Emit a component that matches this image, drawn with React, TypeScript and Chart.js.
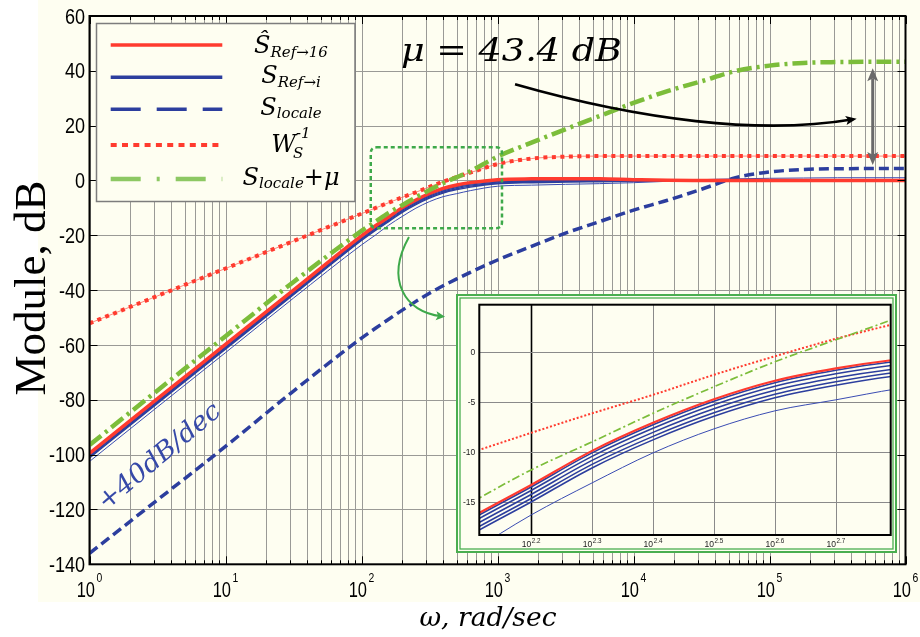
import React, { useEffect, useRef } from "react";
import { Chart, registerables } from "chart.js";

Chart.register(...registerables);

// ---------------- data ----------------
const omega = [1, 3.162, 10, 31.62, 100, 125.9, 158.5, 199.5, 251.2, 316.2, 398.1, 501.2, 631.0, 1000, 1778, 3162, 5623, 10000, 17780, 31620, 56230, 100000, 177800, 316200, 1000000];

const sHatRef16 = [-99.5, -79.6, -59.8, -40.0, -20.2, -16.6, -13.3, -9.9, -7.1, -4.75, -2.9, -1.66, -0.78, 0.3, 0.6, 0.65, 0.6, 0.3, 0.05, 0, 0, 0, 0, 0, 0];

const sRefBand1 = [-99.7, -79.8, -60.0, -40.2, -20.4, -16.8, -13.5, -10.1, -7.3, -4.95, -3.1, -1.85, -0.95, 0.0, 0.2, 0.3, 0.3, 0.2, 0.0, 0, 0, 0, 0, 0, 0];
const sRefBand2 = [-100.05, -80.15, -60.35, -40.55, -20.75, -17.15, -13.85, -10.45, -7.65, -5.3, -3.45, -2.2, -1.3, -0.3, -0.1, 0.0, 0.1, 0.05, 0, 0, 0, 0, 0, 0, 0];
const sRefBand3 = [-100.45, -80.55, -60.75, -40.95, -21.15, -17.55, -14.25, -10.85, -8.05, -5.7, -3.85, -2.6, -1.7, -0.6, -0.3, -0.2, -0.1, -0.1, -0.05, 0, 0, 0, 0, 0, 0];
const sRefBand4 = [-100.85, -80.95, -61.15, -41.35, -21.55, -17.95, -14.65, -11.25, -8.45, -6.1, -4.25, -3.0, -2.05, -0.9, -0.6, -0.4, -0.3, -0.2, -0.1, 0, 0, 0, 0, 0, 0];
const sRefBand5 = [-101.2, -81.3, -61.5, -41.7, -21.9, -18.3, -15.0, -11.6, -8.8, -6.45, -4.6, -3.35, -2.4, -1.2, -0.8, -0.6, -0.45, -0.3, -0.15, 0, 0, 0, 0, 0, 0];
const sRefLowest = [-102.5, -82.6, -62.8, -42.9, -23.5, -20.0, -16.3, -13.1, -10.1, -7.7, -5.9, -4.8, -3.7, -2.1, -1.7, -1.4, -1.15, -0.8, -0.3, 0.3, 0.6, 0.8, 0.9, 1.0, 1.0];

const sLocale = [-136, -116.5, -97, -76.8, -57.5, -54.0, -50.6, -47.3, -44.1, -41.1, -38.4, -35.9, -33.5, -29.0, -24.0, -19.2, -15.0, -10.8, -7.2, -3.2, 1.0, 3.1, 4.0, 4.3, 4.35];

const wsInv = [-52.1, -42.1, -32.1, -22.1, -12.1, -10.1, -8.1, -6.15, -4.3, -2.3, -0.45, 1.3, 2.85, 6.0, 8.0, 8.7, 8.9, 8.9, 8.9, 8.9, 8.9, 8.9, 8.9, 8.9, 8.9];

const sLocaleMu = [-96.5, -76.6, -56.8, -37.0, -18.4, -15.1, -11.8, -9.0, -6.15, -3.5, -1.0, 1.2, 3.4, 8.7, 13.8, 18.7, 23.5, 28.3, 32.6, 36.2, 39.9, 41.9, 42.9, 43.2, 43.35];

// ticks / labels
const yTickValues = [60, 40, 20, 0, -20, -40, -60, -80, -100, -120, -140];
const xDecadeExponents = [0, 1, 2, 3, 4, 5, 6];
const insetXExponents = [2.2, 2.3, 2.4, 2.5, 2.6, 2.7];
const insetXLabels = ["2.2", "2.3", "2.4", "2.5", "2.6", "2.7"];
const insetYTickValues = [0, -5, -10, -15];
const yTitle = "Module, dB";
const xTitle = "ω, rad/sec";
const muLabel = "μ = 43.4 dB";
const slopeLabel = "+40dB/dec";

type Seg = { t: string; k: "main" | "sub" | "sup" | "under" };
const legendLabels: Seg[][] = [
  [{ t: "Ŝ", k: "main" }, { t: "Ref→16", k: "sub" }],
  [{ t: "S", k: "main" }, { t: "Ref→i", k: "sub" }],
  [{ t: "S", k: "main" }, { t: "locale", k: "sub" }],
  [{ t: "W", k: "main" }, { t: "-1", k: "sup" }, { t: "S", k: "under" }],
  [{ t: "S", k: "main" }, { t: "locale", k: "sub" }, { t: "+μ", k: "main" }],
];

// ---------------- styles ----------------
const CREAM = "#fefef1";
const GRID = "#9a9a96";
const RED = "#ff3b2f";
const RED_THIN = "rgba(255,95,85,0.75)";
const BLUE = "#2c3e9e";
const BLUE_THIN = "#3a4cb2";
const GREEN = "#7cbd3a";
const GREEN_LEG = "#8dc863";
const GREEN_BOX = "#3ea94a";
const GREEN_FRAME = "#4aae50";
const SLOPE_BLUE = "#3649a8";

const pts = (arr: number[]) => omega.map((w, i) => ({ x: w, y: arr[i] }));
const ds = (arr: number[], color: string, width: number, dash: number[] = []) => ({
  data: pts(arr),
  borderColor: color,
  borderWidth: width,
  borderDash: dash,
  pointRadius: 0,
  fill: false,
  cubicInterpolationMode: "monotone" as const,
  borderCapStyle: "butt" as const,
});

function drawScaled(ctx: CanvasRenderingContext2D, s: string, x: number, y: number, font: string, sx: number, align: CanvasTextAlign, color: string, baseline: CanvasTextBaseline = "alphabetic", rot = 0) {
  ctx.save();
  ctx.font = font;
  ctx.translate(x, y);
  if (rot) ctx.rotate(rot);
  ctx.scale(sx, 1);
  ctx.textAlign = align;
  ctx.textBaseline = baseline;
  ctx.fillStyle = color;
  ctx.fillText(s, 0, 0);
  ctx.restore();
}

function fitText(ctx: CanvasRenderingContext2D, s: string, x: number, y: number, font: string, targetW: number, align: CanvasTextAlign, color: string, rot = 0) {
  ctx.save();
  ctx.font = font;
  const w = ctx.measureText(s).width;
  ctx.restore();
  drawScaled(ctx, s, x, y, font, targetW / w, align, color, "alphabetic", rot);
}

function arrowHead(ctx: CanvasRenderingContext2D, x: number, y: number, ang: number, len: number, half: number, color: string) {
  ctx.save();
  ctx.translate(x, y);
  ctx.rotate(ang);
  ctx.beginPath();
  ctx.moveTo(0, 0);
  ctx.lineTo(-len, -half);
  ctx.lineTo(-len * 0.78, 0);
  ctx.lineTo(-len, half);
  ctx.closePath();
  ctx.fillStyle = color;
  ctx.fill();
  ctx.restore();
}

function roundRectPath(ctx: CanvasRenderingContext2D, x: number, y: number, w: number, h: number, r: number) {
  ctx.beginPath();
  ctx.moveTo(x + r, y);
  ctx.lineTo(x + w - r, y);
  ctx.quadraticCurveTo(x + w, y, x + w, y + r);
  ctx.lineTo(x + w, y + h - r);
  ctx.quadraticCurveTo(x + w, y + h, x + w - r, y + h);
  ctx.lineTo(x + r, y + h);
  ctx.quadraticCurveTo(x, y + h, x, y + h - r);
  ctx.lineTo(x, y + r);
  ctx.quadraticCurveTo(x, y, x + r, y);
  ctx.closePath();
}

const LMAIN = "italic 24px 'DejaVu Serif'";
const LSUB = "italic 15px 'DejaVu Serif'";

function drawLegend(ctx: CanvasRenderingContext2D) {
  ctx.save();
  ctx.fillStyle = CREAM;
  ctx.fillRect(96.5, 23.5, 258.5, 178);
  ctx.strokeStyle = "#7d7d7d";
  ctx.lineWidth = 1.5;
  ctx.strokeRect(96.5, 23.5, 258.5, 178);

  const sampleY = [45, 77.3, 109.3, 145, 179];
  const textBase = [53.3, 83.3, 115, 151.7, 185];
  const styles = [
    { c: RED, w: 3.5, d: [] as number[] },
    { c: BLUE, w: 3.5, d: [] as number[] },
    { c: BLUE, w: 3.5, d: [30, 16] },
    { c: RED, w: 4, d: [6, 5.3] },
    { c: GREEN_LEG, w: 4.5, d: [30, 16, 3, 16] },
  ];
  styles.forEach((st, i) => {
    ctx.beginPath();
    ctx.strokeStyle = st.c;
    ctx.lineWidth = st.w;
    ctx.setLineDash(st.d);
    ctx.lineCap = "butt";
    ctx.moveTo(110.7, sampleY[i]);
    ctx.lineTo(222.3, sampleY[i]);
    ctx.stroke();
  });
  ctx.setLineDash([]);

  legendLabels.forEach((row, i) => {
    let total = 0;
    let supStart = 0;
    let supW = 0;
    const widths = row.map((s) => {
      ctx.font = s.k === "main" ? LMAIN : LSUB;
      return ctx.measureText(s.t).width;
    });
    row.forEach((s, j) => {
      if (s.k === "sup") { supStart = total; supW = widths[j]; total += widths[j]; }
      else if (s.k === "under") { total = supStart + Math.max(supW, widths[j] - 3); }
      else total += widths[j];
    });
    let x = 291 - total / 2;
    const b = textBase[i];
    let supX = 0;
    row.forEach((s, j) => {
      ctx.fillStyle = "#000";
      ctx.textAlign = "left";
      ctx.textBaseline = "alphabetic";
      if (s.k === "main") { ctx.font = LMAIN; ctx.fillText(s.t, x, b); x += widths[j]; }
      else if (s.k === "sub") { ctx.font = LSUB; ctx.fillText(s.t, x, b + 3.4); x += widths[j]; }
      else if (s.k === "sup") { ctx.font = LSUB; supX = x; ctx.fillText(s.t, x, b - 13.7); x += widths[j]; }
      else { ctx.font = LSUB; ctx.fillText(s.t, supX - 3, b + 6.3); }
    });
  });
  ctx.restore();
}

const mainDecor = {
  id: "mainDecor",
  beforeDraw(chart: any) {
    const ctx: CanvasRenderingContext2D = chart.ctx;
    ctx.save();
    ctx.fillStyle = "#ffffff";
    ctx.fillRect(0, 0, chart.width, chart.height);
    ctx.fillStyle = CREAM;
    ctx.fillRect(38, 0, chart.width - 38, 602);
    ctx.restore();
  },
  beforeDatasetsDraw(chart: any) {
    const ctx: CanvasRenderingContext2D = chart.ctx;
    const a = chart.chartArea;
    const xs = chart.scales.x;
    const ys = chart.scales.y;
    ctx.save();
    ctx.strokeStyle = GRID;
    ctx.lineWidth = 1;
    for (let k = 0; k < 6; k++) {
      for (let m = 1; m <= 9; m++) {
        const px = Math.round(xs.getPixelForValue(m * Math.pow(10, k))) + 0.5;
        ctx.beginPath();
        ctx.moveTo(px, a.top);
        ctx.lineTo(px, a.bottom);
        ctx.stroke();
      }
    }
    yTickValues.forEach((v) => {
      const py = Math.round(ys.getPixelForValue(v)) + 0.5;
      ctx.beginPath();
      ctx.moveTo(a.left, py);
      ctx.lineTo(a.right, py);
      ctx.stroke();
    });
    ctx.restore();
  },
  afterDatasetsDraw(chart: any) {
    const ctx: CanvasRenderingContext2D = chart.ctx;
    const a = chart.chartArea;
    const xs = chart.scales.x;
    const ys = chart.scales.y;
    const X = (lx: number) => xs.getPixelForValue(Math.pow(10, lx));
    const Y = (v: number) => ys.getPixelForValue(v);
    ctx.save();

    // dashed zoom box
    ctx.strokeStyle = GREEN_BOX;
    ctx.lineWidth = 2.5;
    ctx.setLineDash([4, 3]);
    roundRectPath(ctx, X(2.068), Y(12.1), X(3.033) - X(2.068), Y(-17.4) - Y(12.1), 6);
    ctx.stroke();
    ctx.setLineDash([]);

    // green curved arrow
    {
      const p0 = [X(2.349), Y(-20.6)], p1 = [X(2.173), Y(-36.3)], p2 = [X(2.32), Y(-48.0)], p3 = [X(2.614), Y(-49.7)];
      ctx.beginPath();
      ctx.strokeStyle = GREEN_BOX;
      ctx.lineWidth = 2;
      ctx.moveTo(p0[0], p0[1]);
      ctx.bezierCurveTo(p1[0], p1[1], p2[0], p2[1], p3[0] - 4, p3[1] - 0.5);
      ctx.stroke();
      arrowHead(ctx, p3[0], p3[1], Math.atan2(p3[1] - p2[1], p3[0] - p2[0]), 9, 4.5, GREEN_BOX);
    }

    // black curved arrow
    {
      const p0 = [X(3.129), Y(35.09)], p1 = [X(4.048), Y(22.07)], p2 = [X(4.93), Y(16.6)], p3 = [X(5.641), Y(22.54)];
      ctx.beginPath();
      ctx.strokeStyle = "#000";
      ctx.lineWidth = 2.6;
      ctx.moveTo(p0[0], p0[1]);
      ctx.bezierCurveTo(p1[0], p1[1], p2[0], p2[1], p3[0] - 5, p3[1] + 0.8);
      ctx.stroke();
      arrowHead(ctx, p3[0], p3[1], Math.atan2(p3[1] - p2[1], p3[0] - p2[0]), 11, 4.5, "#000");
    }

    // gray double arrow
    {
      const gx = X(5.759), yt = Y(40.9), yb = Y(5.65);
      ctx.beginPath();
      ctx.strokeStyle = "#6a6a6a";
      ctx.lineWidth = 3;
      ctx.moveTo(gx, yt + 10);
      ctx.lineTo(gx, yb - 10);
      ctx.stroke();
      arrowHead(ctx, gx, yt, -Math.PI / 2, 13, 5.5, "#6a6a6a");
      arrowHead(ctx, gx, yb, Math.PI / 2, 13, 5.5, "#6a6a6a");
    }

    // frame
    ctx.strokeStyle = "#000";
    ctx.lineWidth = 2;
    ctx.strokeRect(a.left, a.top, a.right - a.left, a.bottom - a.top);

    // ticks
    ctx.lineWidth = 1;
    for (let k = 0; k <= 6; k++) {
      for (let m = 1; m <= 9; m++) {
        if (k === 6 && m > 1) break;
        const px = Math.round(xs.getPixelForValue(m * Math.pow(10, k))) + 0.5;
        const len = m === 1 ? 8 : 4;
        ctx.beginPath();
        ctx.moveTo(px, a.bottom);
        ctx.lineTo(px, a.bottom - len);
        ctx.moveTo(px, a.top);
        ctx.lineTo(px, a.top + len);
        ctx.stroke();
      }
    }
    yTickValues.forEach((v) => {
      const py = Math.round(ys.getPixelForValue(v)) + 0.5;
      ctx.beginPath();
      ctx.moveTo(a.left, py);
      ctx.lineTo(a.left + 8, py);
      ctx.moveTo(a.right, py);
      ctx.lineTo(a.right - 8, py);
      ctx.stroke();
    });

    // y tick labels
    yTickValues.forEach((v) => {
      drawScaled(ctx, String(v), a.left - 4.5, ys.getPixelForValue(v) + 1.5, "22px 'Liberation Sans'", 0.82, "right", "#000", "middle");
    });

    // x tick labels 10^k
    xDecadeExponents.forEach((e) => {
      const px = xs.getPixelForValue(Math.pow(10, e));
      ctx.save();
      ctx.font = "22px 'Liberation Sans'";
      const w10 = ctx.measureText("10").width * 0.75;
      ctx.font = "13px 'Liberation Sans'";
      const ws = ctx.measureText(String(e)).width * 0.8;
      ctx.restore();
      const start = px - (w10 + 1.5 + ws) / 2;
      drawScaled(ctx, "10", start, 596.5, "22px 'Liberation Sans'", 0.75, "left", "#000");
      drawScaled(ctx, String(e), start + w10 + 1.5, 582, "13px 'Liberation Sans'", 0.8, "left", "#000");
    });

    // axis titles
    fitText(ctx, yTitle, 45, 288, "44px 'Liberation Serif'", 215, "center", "#000", -Math.PI / 2);
    fitText(ctx, xTitle, 488, 626, "italic 26px 'DejaVu Serif'", 137, "center", "#000");

    // annotations
    fitText(ctx, muLabel, X(2.29), Y(43.6), "italic 31px 'DejaVu Serif'", 221, "left", "#000");
    fitText(ctx, slopeLabel, X(0.121), Y(-120.6), "italic 26px 'DejaVu Serif'", 152, "left", SLOPE_BLUE, (-40 * Math.PI) / 180);

    ctx.restore();
    drawLegend(ctx);
  },
};

const insetDecor = {
  id: "insetDecor",
  beforeDraw(chart: any) {
    const ctx: CanvasRenderingContext2D = chart.ctx;
    const w = chart.width, h = chart.height;
    ctx.save();
    ctx.fillStyle = CREAM;
    ctx.fillRect(0, 0, w, h);
    ctx.strokeStyle = GREEN_FRAME;
    ctx.lineWidth = 2;
    ctx.strokeRect(1, 1, w - 2, h - 2);
    ctx.lineWidth = 1.3;
    ctx.strokeRect(4, 4, w - 8, h - 8);
    ctx.restore();
  },
  beforeDatasetsDraw(chart: any) {
    const ctx: CanvasRenderingContext2D = chart.ctx;
    const a = chart.chartArea;
    const xs = chart.scales.x;
    const ys = chart.scales.y;
    ctx.save();
    ctx.lineWidth = 1;
    insetXExponents.forEach((e, i) => {
      const px = Math.round(xs.getPixelForValue(Math.pow(10, e))) + 0.5;
      ctx.beginPath();
      ctx.strokeStyle = i === 0 ? "#000" : "#8a8a8a";
      ctx.lineWidth = i === 0 ? 1.6 : 1;
      ctx.moveTo(px, a.top);
      ctx.lineTo(px, a.bottom);
      ctx.stroke();
    });
    ctx.strokeStyle = "#8a8a8a";
    ctx.lineWidth = 1;
    insetYTickValues.forEach((v) => {
      const py = Math.round(ys.getPixelForValue(v)) + 0.5;
      ctx.beginPath();
      ctx.moveTo(a.left, py);
      ctx.lineTo(a.right, py);
      ctx.stroke();
    });
    ctx.restore();
  },
  afterDatasetsDraw(chart: any) {
    const ctx: CanvasRenderingContext2D = chart.ctx;
    const a = chart.chartArea;
    const xs = chart.scales.x;
    const ys = chart.scales.y;
    ctx.save();
    ctx.strokeStyle = "#000";
    ctx.lineWidth = 2;
    ctx.strokeRect(a.left, a.top, a.right - a.left, a.bottom - a.top);
    insetYTickValues.forEach((v) => {
      drawScaled(ctx, String(v), a.left - 4, ys.getPixelForValue(v) + 0.5, "9.5px 'Liberation Sans'", 0.9, "right", "#222", "middle");
    });
    insetXExponents.forEach((e, i) => {
      const px = xs.getPixelForValue(Math.pow(10, e));
      ctx.save();
      ctx.font = "9.5px 'Liberation Sans'";
      const w10 = ctx.measureText("10").width * 0.9;
      ctx.font = "7px 'Liberation Sans'";
      const ws = ctx.measureText(insetXLabels[i]).width * 0.9;
      ctx.restore();
      const start = px - (w10 + 0.5 + ws) / 2;
      drawScaled(ctx, "10", start, a.bottom + 12.3, "9.5px 'Liberation Sans'", 0.9, "left", "#222");
      drawScaled(ctx, insetXLabels[i], start + w10 + 0.5, a.bottom + 8.3, "7px 'Liberation Sans'", 0.9, "left", "#222");
    });
    ctx.restore();
  },
};

export default function App() {
  const mainRef = useRef<HTMLCanvasElement>(null);
  const insetRef = useRef<HTMLCanvasElement>(null);

  useEffect(() => {
    if (!mainRef.current || !insetRef.current) return;
    const bands = [sRefBand5, sRefBand4, sRefBand3, sRefBand2, sRefBand1];

    const main = new Chart(mainRef.current, {
      type: "line",
      data: {
        datasets: [
          ds(sLocaleMu, GREEN, 4.5, [15, 5, 3, 5]),
          ds(sHatRef16, RED, 3.5),
          ds(wsInv, RED, 4, [4, 4.5]),
          ds(wsInv, RED_THIN, 1),
          ds(sLocale, BLUE, 3.5, [10, 5]),
          ...bands.map((b) => ds(b, BLUE, 1.4)),
          ds(sRefLowest, BLUE_THIN, 1),
        ] as any,
      },
      options: {
        responsive: false,
        devicePixelRatio: 1,
        animation: false,
        events: [],
        layout: { padding: { left: 89.5, top: 16, right: 14.5, bottom: 72.7 } },
        plugins: { legend: { display: false }, title: { display: false }, tooltip: { enabled: false } },
        scales: {
          x: { type: "logarithmic", min: 1, max: 1000000, display: false },
          y: { type: "linear", min: -140, max: 60, display: false },
        },
      } as any,
      plugins: [mainDecor],
    });

    const inset = new Chart(insetRef.current, {
      type: "line",
      data: {
        datasets: [
          ds(sHatRef16, RED, 2.2),
          ds(sLocaleMu, GREEN, 1.7, [8, 3, 2, 3]),
          ds(wsInv, RED, 2, [2, 2]),
          ...bands.map((b) => ds(b, BLUE, 1.6)),
          ds(sRefLowest, BLUE_THIN, 1),
        ] as any,
      },
      options: {
        responsive: false,
        devicePixelRatio: 1,
        animation: false,
        events: [],
        layout: { padding: { left: 23.3, top: 10.7, right: 6.3, bottom: 18 } },
        plugins: { legend: { display: false }, title: { display: false }, tooltip: { enabled: false } },
        scales: {
          x: { type: "logarithmic", min: Math.pow(10, 2.115), max: Math.pow(10, 2.79), display: false },
          y: { type: "linear", min: -18.3, max: 4.7, display: false },
        },
      } as any,
      plugins: [insetDecor],
    });

    return () => {
      main.destroy();
      inset.destroy();
    };
  }, []);

  return (
    <div style={{ position: "fixed", left: 0, top: 0, width: 920, height: 637, background: "#fff", overflow: "hidden" }}>
      <canvas ref={mainRef} width={920} height={637} style={{ position: "absolute", left: 0, top: 0, width: 920, height: 637 }} />
      <canvas ref={insetRef} width={441} height={259} style={{ position: "absolute", left: 456, top: 294, width: 441, height: 259 }} />
    </div>
  );
}
